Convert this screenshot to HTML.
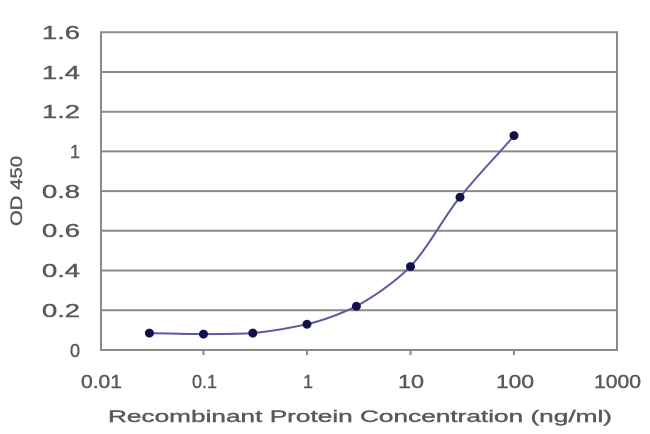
<!DOCTYPE html>
<html><head><style>body{margin:0;background:#fff}svg{display:block}</style></head><body>
<svg width="650" height="434" xmlns="http://www.w3.org/2000/svg" font-family="Liberation Sans, sans-serif">
<g stroke="#8a8a8a" stroke-width="2">
<line x1="100" y1="32.3" x2="618" y2="32.3"/>
<line x1="100" y1="72" x2="618" y2="72"/>
<line x1="100" y1="111.7" x2="618" y2="111.7"/>
<line x1="100" y1="151.4" x2="618" y2="151.4"/>
<line x1="100" y1="191.1" x2="618" y2="191.1"/>
<line x1="100" y1="230.8" x2="618" y2="230.8"/>
<line x1="100" y1="270.5" x2="618" y2="270.5"/>
<line x1="100" y1="310.2" x2="618" y2="310.2"/>
<line x1="101" y1="32" x2="101" y2="351"/>
<line x1="617" y1="32" x2="617" y2="351"/>
<line x1="100" y1="350" x2="618" y2="350"/>
<line x1="203.5" y1="350" x2="203.5" y2="355"/>
<line x1="307" y1="350" x2="307" y2="355"/>
<line x1="410.5" y1="350" x2="410.5" y2="355"/>
<line x1="514" y1="350" x2="514" y2="355"/>
</g>
<g fill="#5a5a5a" font-size="18" text-anchor="end" stroke="#5a5a5a" stroke-width="0.4" lengthAdjust="spacingAndGlyphs">
<text x="80" y="39" textLength="38" lengthAdjust="spacingAndGlyphs">1.6</text><text x="80" y="79" textLength="38" lengthAdjust="spacingAndGlyphs">1.4</text><text x="80" y="118" textLength="38" lengthAdjust="spacingAndGlyphs">1.2</text>
<text x="80" y="158">1</text><text x="80" y="198" textLength="38" lengthAdjust="spacingAndGlyphs">0.8</text><text x="80" y="237" textLength="38" lengthAdjust="spacingAndGlyphs">0.6</text>
<text x="80" y="277" textLength="38" lengthAdjust="spacingAndGlyphs">0.4</text><text x="80" y="317" textLength="38" lengthAdjust="spacingAndGlyphs">0.2</text><text x="80" y="357">0</text>
</g>
<g fill="#5a5a5a" font-size="18" stroke="#5a5a5a" stroke-width="0.4">
<text x="81" y="388" textLength="41" lengthAdjust="spacingAndGlyphs">0.01</text><text x="192" y="388" textLength="25" lengthAdjust="spacingAndGlyphs">0.1</text><text x="303" y="388">1</text>
<text x="398" y="388" textLength="26" lengthAdjust="spacingAndGlyphs">10</text><text x="496" y="388" textLength="38" lengthAdjust="spacingAndGlyphs">100</text><text x="594" y="388" textLength="47" lengthAdjust="spacingAndGlyphs">1000</text>
<text x="108" y="422" font-size="17" textLength="504" lengthAdjust="spacingAndGlyphs">Recombinant Protein Concentration (ng/ml)</text>
<text transform="translate(22,226) rotate(-90)" font-size="17" textLength="70" lengthAdjust="spacingAndGlyphs">OD 450</text>
</g>
<path fill="none" stroke="#5a5aa0" stroke-width="2" d="M149.4,333.1 C170,333.5 185,334.1 203.5,334.1 C225,334 240,334 252.8,333.1 C275,331 290,328 307,324.2 C325,320 340,314 356.4,306.3 C378,294 395,282 410.5,266.6 C430,245 445,215 460,197.2 C480,172 498,155 514,135.6"/>
<g fill="#12124a">
<circle cx="149.4" cy="333.1" r="4.5"/><circle cx="203.5" cy="334.1" r="4.5"/><circle cx="252.8" cy="333.1" r="4.5"/>
<circle cx="307" cy="324.2" r="4.5"/><circle cx="356.4" cy="306.3" r="4.5"/><circle cx="410.5" cy="266.6" r="4.5"/>
<circle cx="460" cy="197.2" r="4.5"/><circle cx="514" cy="135.6" r="4.5"/>
</g>
</svg>
</body></html>
